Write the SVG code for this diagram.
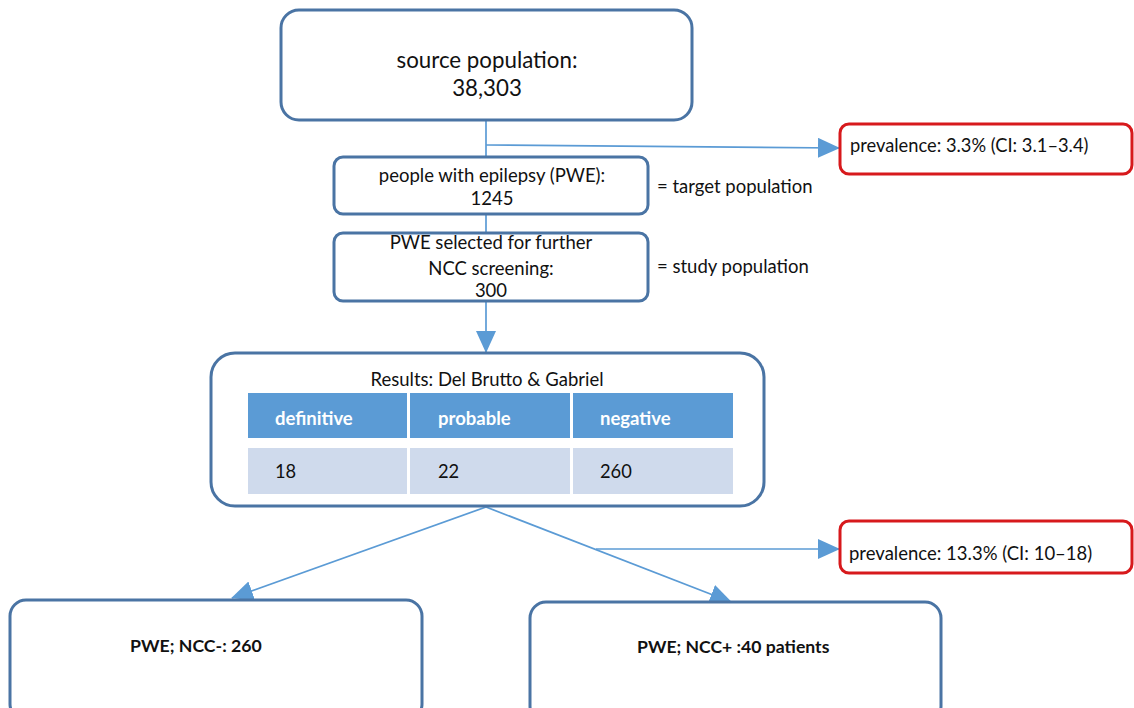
<svg xmlns="http://www.w3.org/2000/svg" width="1134" height="708" viewBox="0 0 1134 708">
<defs>
<style>
.box{fill:#fff;stroke:#4a74a4;stroke-width:3}
.red{fill:#fff;stroke:#d7191c;stroke-width:3}
.ln{fill:none;stroke:#5b9bd5;stroke-width:1.7}
.t{font-family:Lato,"Liberation Sans",sans-serif;fill:#111}
.hd{fill:#5b9bd5}
.dt{fill:#cfdaec}
.hw{font-family:Lato,"Liberation Sans",sans-serif;font-weight:bold;fill:#fff;font-size:18.5px}
</style>
<marker id="ah" markerWidth="22" markerHeight="20" refX="21" refY="10" orient="auto" markerUnits="userSpaceOnUse">
<path d="M0,0 L22,10 L0,20 Z" fill="#5b9bd5"/>
</marker>
</defs>
<rect width="1134" height="708" fill="#fff"/>
<g id="connectors">
<line class="ln" x1="486" y1="120" x2="486" y2="352" marker-end="url(#ah)"/>
<line class="ln" x1="486" y1="145" x2="839" y2="148" marker-end="url(#ah)"/>
<line class="ln" x1="486" y1="507" x2="232" y2="598" marker-end="url(#ah)"/>
<line class="ln" x1="486" y1="507" x2="731" y2="602" marker-end="url(#ah)"/>
<line class="ln" x1="596" y1="549" x2="839" y2="549" marker-end="url(#ah)"/>
</g>
<g id="source">
<rect class="box" x="281" y="10" width="411" height="110" rx="18"/>
<text class="t" x="487" y="68" font-size="22.3" text-anchor="middle">source population:</text>
<text class="t" x="487" y="96" font-size="22.3" text-anchor="middle">38,303</text>
</g>
<g id="prev1">
<rect class="red" x="840" y="124" width="292" height="50" rx="9"/>
<text class="t" x="850" y="152" font-size="18.3">prevalence: 3.3% (CI: 3.1–3.4)</text>
</g>
<g id="pwe">
<rect class="box" x="334" y="157" width="314" height="57" rx="9"/>
<text class="t" x="492" y="182" font-size="18.5" text-anchor="middle">people with epilepsy (PWE):</text>
<text class="t" x="492" y="205" font-size="18.5" text-anchor="middle">1245</text>
</g>
<text class="t" x="657" y="193" font-size="18.5">= target population</text>
<g id="study">
<rect class="box" x="334" y="233" width="314" height="68" rx="9"/>
<text class="t" x="491" y="249" font-size="18.5" text-anchor="middle">PWE selected for further</text>
<text class="t" x="491" y="275" font-size="18.5" text-anchor="middle">NCC screening:</text>
<text class="t" x="491" y="297" font-size="18.5" text-anchor="middle">300</text>
</g>
<text class="t" x="657" y="273" font-size="18.5">= study population</text>
<g id="results">
<rect class="box" x="211" y="353" width="553" height="153" rx="24"/>
<text class="t" x="487" y="386" font-size="18.5" text-anchor="middle">Results: Del Brutto &amp; Gabriel</text>
<rect class="hd" x="248" y="393" width="159" height="45"/>
<rect class="hd" x="410" y="393" width="160" height="45"/>
<rect class="hd" x="573" y="393" width="160" height="45"/>
<rect class="dt" x="248" y="448" width="159" height="46"/>
<rect class="dt" x="410" y="448" width="160" height="46"/>
<rect class="dt" x="573" y="448" width="160" height="46"/>
<text class="hw" x="275" y="425">definitive</text>
<text class="hw" x="438" y="425">probable</text>
<text class="hw" x="600" y="425">negative</text>
<text class="t" x="275" y="478" font-size="18.3">18</text>
<text class="t" x="438" y="478" font-size="18.3">22</text>
<text class="t" x="600" y="478" font-size="18.3">260</text>
</g>
<g id="prev2">
<rect class="red" x="840" y="521" width="292" height="52" rx="9"/>
<text class="t" x="849" y="560" font-size="18.5">prevalence: 13.3% (CI: 10–18)</text>
</g>
<g id="neg">
<rect class="box" x="10" y="600" width="412" height="120" rx="16"/>
<text class="t" x="130" y="652" font-size="17.7" font-weight="bold">PWE; NCC-: 260</text>
</g>
<g id="pos">
<rect class="box" x="530" y="602" width="411" height="120" rx="16"/>
<text class="t" x="637" y="653" font-size="17.6" font-weight="bold">PWE; NCC+ :40 patients</text>
</g>
</svg>
